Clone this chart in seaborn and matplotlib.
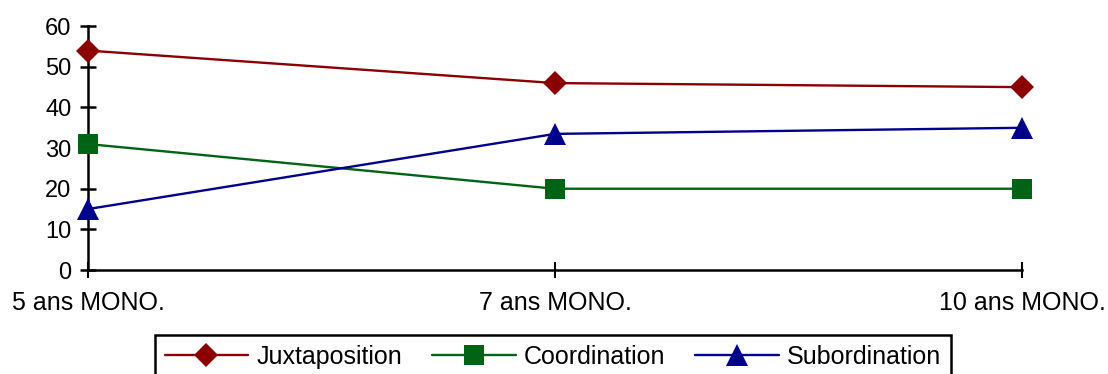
import pandas as pd
import seaborn as sns
from matplotlib import pyplot as plt

# data
ages = ['5 ans MONO.', '7 ans MONO.', '10 ans MONO.']
juxtaposition = [54, 46, 45]
coordination = [31, 20, 20]
subordination = [15, 33.5, 35]
series_names = ['Juxtaposition', 'Coordination', 'Subordination']

rows = []
for name, vals in zip(series_names, [juxtaposition, coordination, subordination]):
    for age, v in zip(ages, vals):
        rows.append({'age': age, 'value': v, 'type': name})
df = pd.DataFrame(rows)

sns.set_style("white")
plt.rcParams['font.family'] = ['Liberation Sans', 'DejaVu Sans']
plt.rcParams['text.color'] = 'black'

fig = plt.figure(figsize=(11.08, 3.74), dpi=100)
ax = fig.add_axes([0.0794, 0.278, 0.843, 0.652])

palette = {'Juxtaposition': '#8B0000', 'Coordination': '#006414', 'Subordination': '#00008B'}
markers = {'Juxtaposition': 'D', 'Coordination': 's', 'Subordination': '^'}
msizes = {'Juxtaposition': 12, 'Coordination': 14, 'Subordination': 16}

sns.lineplot(data=df, x='age', y='value', hue='type', style='type',
             palette=palette, markers=markers, dashes=False,
             markersize=12, linewidth=1.7, markeredgewidth=0, ax=ax,
             legend=False)

for line, name in zip(ax.lines, series_names):
    line.set_markersize(msizes[name])
    line.set_clip_on(False)
    line.set_zorder(5)

ax.set_xlim(0, 2)
ax.set_ylim(0, 60)
ax.set_yticks(range(0, 61, 10))
ax.set_xlabel('')
ax.set_ylabel('')
for s in ['top', 'right']:
    ax.spines[s].set_visible(False)
for s in ['left', 'bottom']:
    ax.spines[s].set_color('black')
    ax.spines[s].set_linewidth(1.8)
ax.tick_params(axis='y', left=True, direction='inout', length=12, width=1.8,
               labelsize=17, labelcolor='black', color='black', pad=6)
ax.tick_params(axis='x', bottom=True, direction='inout', length=12, width=1.5,
               labelsize=18, labelcolor='black', color='black', pad=9)

# legend
handles = []
for name in series_names:
    h, = ax.plot([], [], color=palette[name], marker=markers[name], markersize=msizes[name],
                 markeredgewidth=0, linewidth=1.7)
    handles.append(h)
leg = fig.legend(handles, series_names, loc='upper center', bbox_to_anchor=(0.499, 0.104),
                 ncol=3, fontsize=18, frameon=True, fancybox=False, framealpha=1,
                 handlelength=3.35, columnspacing=1.2, handletextpad=0.32,
                 borderpad=0.4, borderaxespad=0)
leg.get_frame().set_edgecolor('black')
leg.get_frame().set_linewidth(1.8)

plt.savefig('out.png', dpi=100)
